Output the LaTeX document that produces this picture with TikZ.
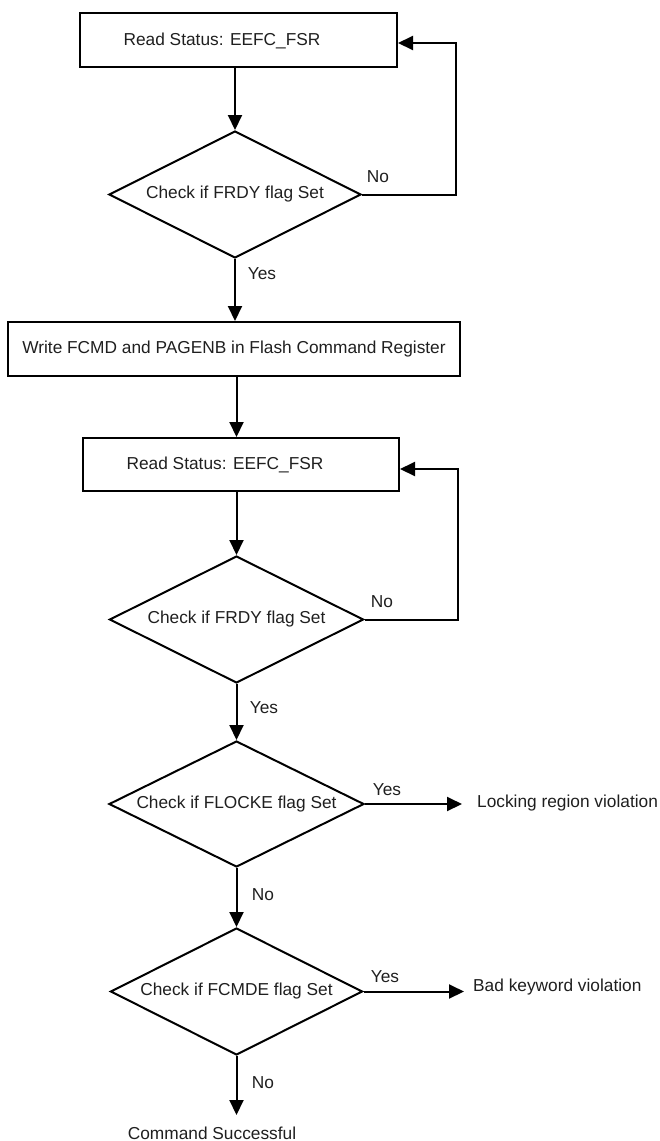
\documentclass[tikz,border=0pt]{standalone}
\usepackage{fontspec}
\setmainfont{Liberation Sans}
\usetikzlibrary{shapes.geometric,arrows.meta}
\begin{document}
\begin{tikzpicture}[x=1pt,y=-1pt,
  every node/.style={font=\fontsize{17.3}{20}\selectfont, text=black!88},
  stepbox/.style={draw, line width=2pt, rectangle, inner sep=0pt},
  decision/.style={draw, line width=2pt, shape=diamond, aspect=2, inner sep=0pt},
  lbl/.style={inner sep=0pt},
  flow/.style={line width=2pt, -{Triangle[length=15pt,width=14pt]}}]
\useasboundingbox (0,0) rectangle (660,1141);

% boxes
\node[stepbox, minimum width=317pt, minimum height=54pt] (b1) at (238.5,40) {};
\node[lbl] (b1t) at (222,41) {Read Status: EEFC\_FSR};
\node[decision, minimum width=252pt, minimum height=127pt] (d1) at (235,194.5) {Check if FRDY flag Set};
\node[stepbox, minimum width=452pt, minimum height=54pt] (b2) at (234,349) {Write FCMD and PAGENB in Flash Command Register};
\node[stepbox, minimum width=316pt, minimum height=53pt] (b3) at (241,464.5) {};
\node[lbl] (b3t) at (225,465) {Read Status: EEFC\_FSR};
\node[decision, minimum width=254pt, minimum height=127pt] (d2) at (236.5,619.5) {Check if FRDY flag Set};
\node[decision, minimum width=255pt, minimum height=126pt] (d3) at (236.5,804) {Check if FLOCKE flag Set};
\node[decision, minimum width=252pt, minimum height=127pt] (d4) at (236.5,991.5) {Check if FCMDE flag Set};

\node[lbl, anchor=west] (lock) at (477,803) {Locking region violation};
\node[lbl, anchor=west] (bad) at (473,987) {Bad keyword violation};
\node[lbl] (ok) at (212,1133) {Command Successful};
\coordinate (okin) at (236.5,1115);

% connectors
\draw[flow] (b1.south -| d1.north) -- (d1.north);
\draw[flow] (d1.south) -- (d1.south |- b2.north);
\draw[flow] (d1.east) -- (456,194.5) -- (456,43) -- (b1.east |- 0,43);
\draw[flow] (b2.south -| d2.north) -- (b3.north -| d2.north);
\draw[flow] (b3.south -| d2.north) -- (d2.north);
\draw[flow] (d2.south) -- (d3.north);
\draw[flow] (d2.east) -- (458,619.5) -- (458,469) -- (b3.east |- 0,469);
\draw[flow] (d3.south) -- (d4.north);
\draw[flow] (d3.east) -- ([xshift=-15pt]lock.west |- d3.east);
\draw[flow] (d4.east) -- ([xshift=-9pt]bad.west |- d4.east);
\draw[flow] (d4.south) -- (okin);

% edge labels
\node[lbl] (n1) at (378,177) {No};
\node[lbl] (y1) at (262,274) {Yes};
\node[lbl] (n2) at (382,602) {No};
\node[lbl] (y2) at (264,708) {Yes};
\node[lbl] (y3) at (387,790) {Yes};
\node[lbl] (n3) at (263,895) {No};
\node[lbl] (y4) at (385,977) {Yes};
\node[lbl] (n4) at (263,1083) {No};
\end{tikzpicture}
\end{document}
